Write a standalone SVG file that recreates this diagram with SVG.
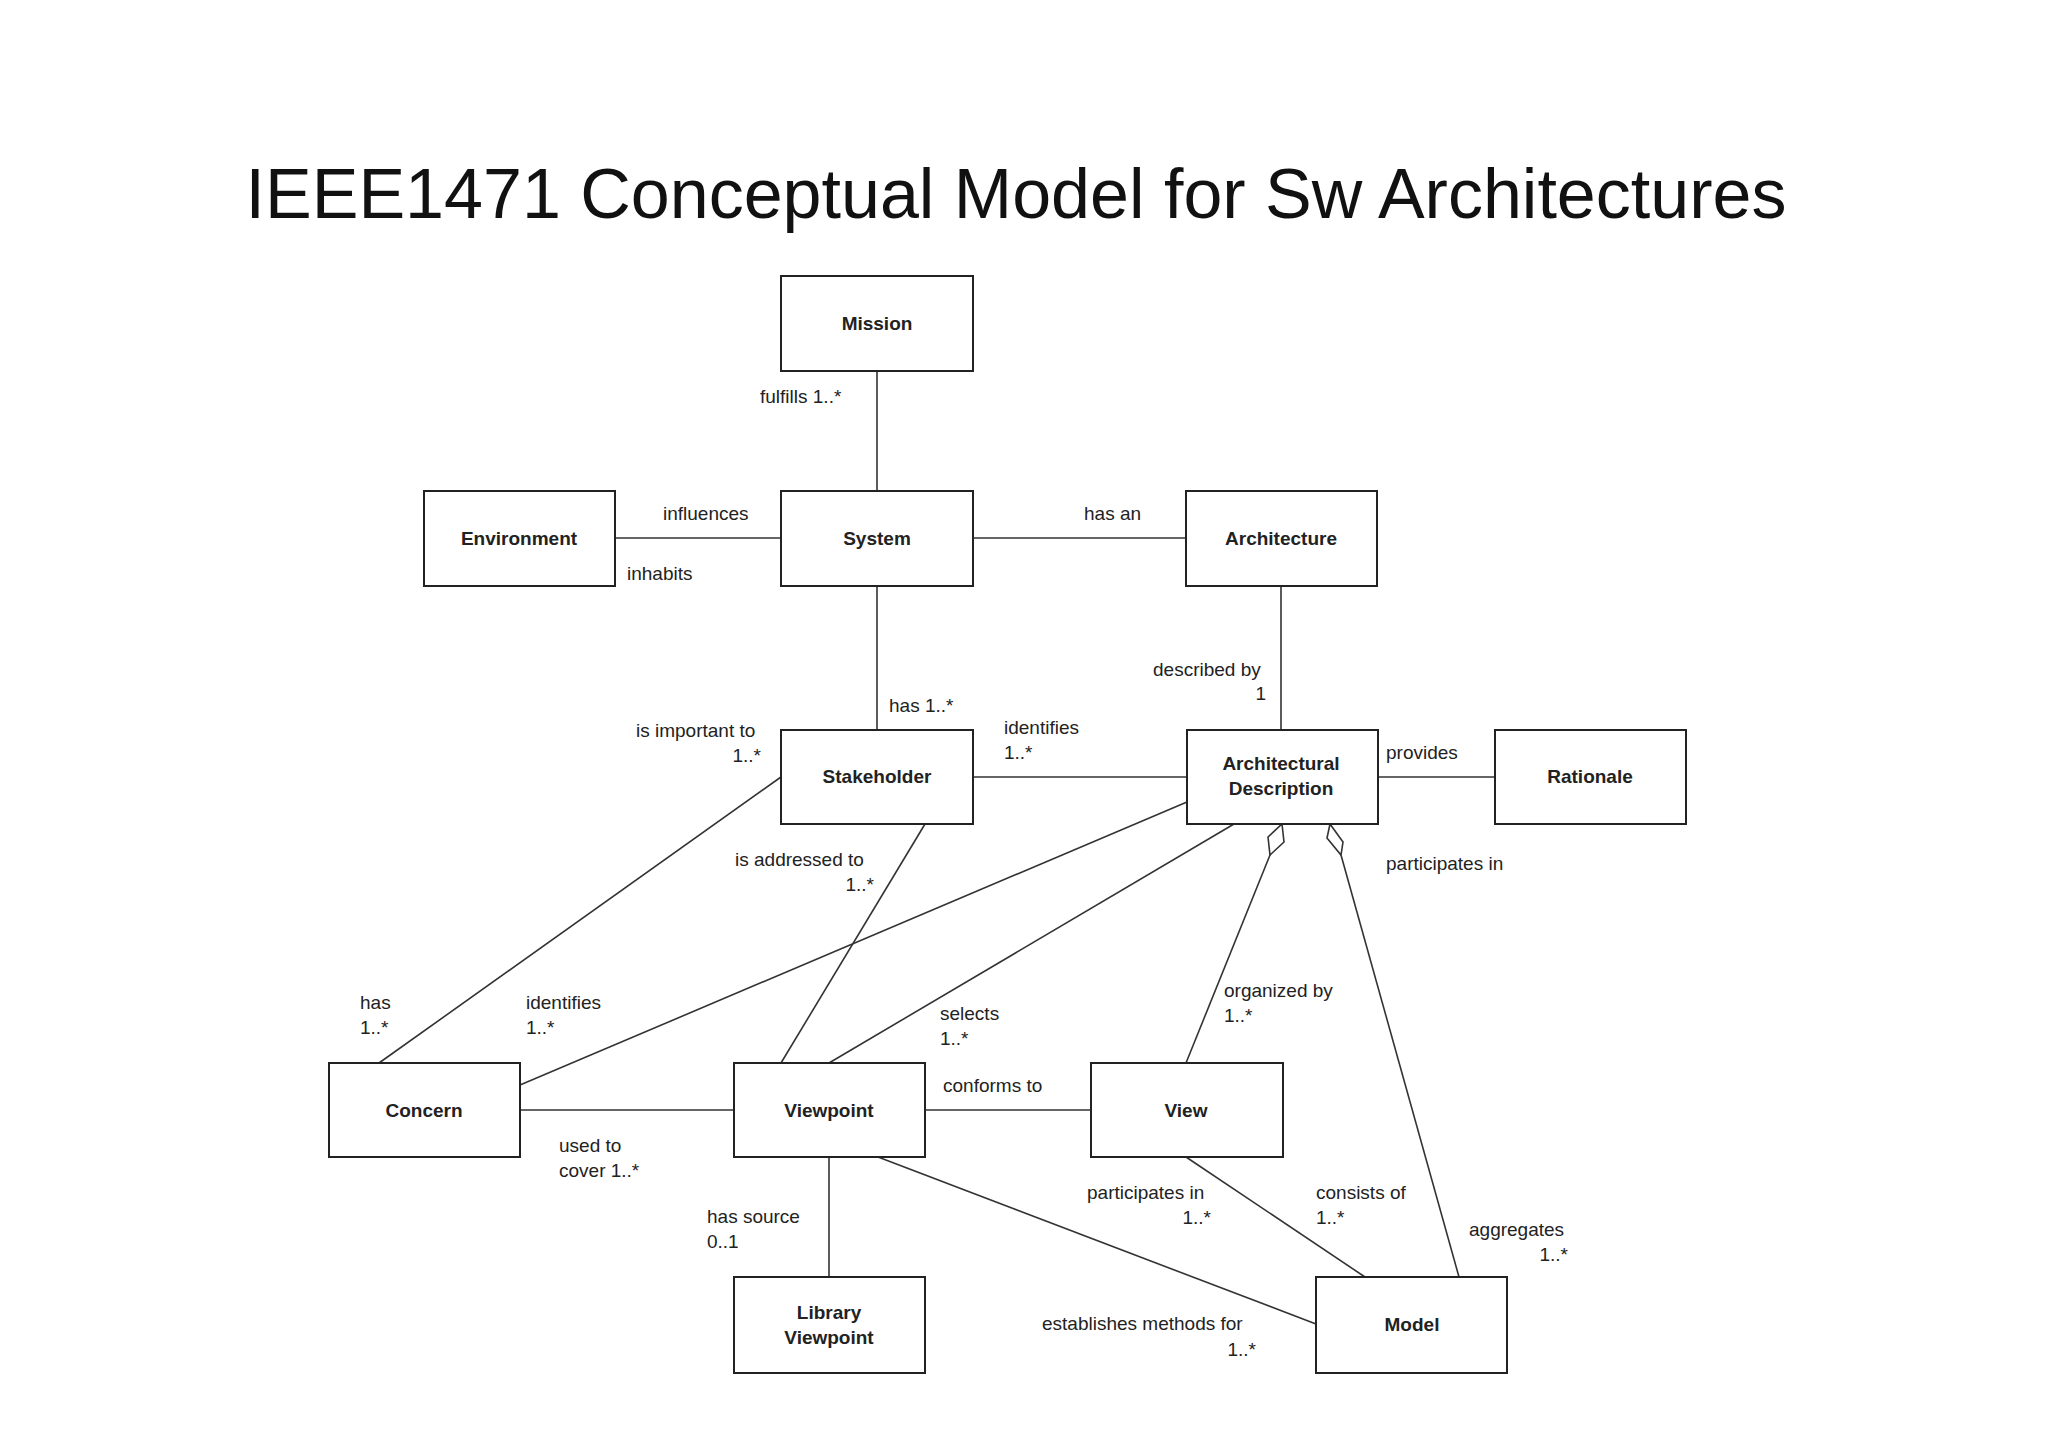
<svg xmlns="http://www.w3.org/2000/svg" width="2048" height="1447" viewBox="0 0 2048 1447">
<style>
.b{fill:#fff;stroke:#222;stroke-width:2}
.n{font-family:"Liberation Sans",Arial,sans-serif;font-size:19px;font-weight:bold;fill:#222;text-anchor:middle}
.l{font-family:"Liberation Sans",Arial,sans-serif;font-size:19px;fill:#222}
.r{text-anchor:end}
#c line,#c path{stroke:#333;stroke-width:1.6;fill:none}
</style>
<rect width="2048" height="1447" fill="#fff"/>
<text x="1016" y="218" font-family="Liberation Sans,Arial,sans-serif" font-size="70" text-anchor="middle" fill="#111">IEEE1471 Conceptual Model for Sw Architectures</text>
<g id="c">
<line x1="877" y1="371" x2="877" y2="491"/>
<line x1="615" y1="538" x2="781" y2="538"/>
<line x1="973" y1="538" x2="1186" y2="538"/>
<line x1="877" y1="586" x2="877" y2="730"/>
<line x1="1281" y1="586" x2="1281" y2="730"/>
<line x1="973" y1="777" x2="1187" y2="777"/>
<line x1="1378" y1="777" x2="1495" y2="777"/>
<line x1="781" y1="777" x2="379" y2="1063"/>
<line x1="925" y1="824" x2="781" y2="1063"/>
<line x1="1187" y1="802" x2="520" y2="1085"/>
<line x1="1234" y1="824" x2="829" y2="1063"/>
<path d="M1282 824 L1284 842 L1270 855 L1268 837 Z"/>
<line x1="1270" y1="855" x2="1186" y2="1063"/>
<path d="M1330 824 L1343 842 L1341 855 L1327 838 Z"/>
<line x1="1341" y1="855" x2="1459" y2="1277"/>
<line x1="520" y1="1110" x2="734" y2="1110"/>
<line x1="925" y1="1110" x2="1091" y2="1110"/>
<line x1="829" y1="1157" x2="829" y2="1277"/>
<line x1="878" y1="1157" x2="1316" y2="1324"/>
<line x1="1186" y1="1157" x2="1365" y2="1277"/>
</g>
<g id="mission"><rect class="b" x="781" y="276" width="192" height="95"/><text class="n" x="877" y="330">Mission</text></g>
<g id="environment"><rect class="b" x="424" y="491" width="191" height="95"/><text class="n" x="519" y="545">Environment</text></g>
<g id="system"><rect class="b" x="781" y="491" width="192" height="95"/><text class="n" x="877" y="545">System</text></g>
<g id="architecture"><rect class="b" x="1186" y="491" width="191" height="95"/><text class="n" x="1281" y="545">Architecture</text></g>
<g id="stakeholder"><rect class="b" x="781" y="730" width="192" height="94"/><text class="n" x="877" y="783">Stakeholder</text></g>
<g id="ad"><rect class="b" x="1187" y="730" width="191" height="94"/><text class="n" x="1281" y="770">Architectural</text><text class="n" x="1281" y="795">Description</text></g>
<g id="rationale"><rect class="b" x="1495" y="730" width="191" height="94"/><text class="n" x="1590" y="783">Rationale</text></g>
<g id="concern"><rect class="b" x="329" y="1063" width="191" height="94"/><text class="n" x="424" y="1117">Concern</text></g>
<g id="viewpoint"><rect class="b" x="734" y="1063" width="191" height="94"/><text class="n" x="829" y="1117">Viewpoint</text></g>
<g id="view"><rect class="b" x="1091" y="1063" width="192" height="94"/><text class="n" x="1186" y="1117">View</text></g>
<g id="library"><rect class="b" x="734" y="1277" width="191" height="96"/><text class="n" x="829" y="1319">Library</text><text class="n" x="829" y="1344">Viewpoint</text></g>
<g id="model"><rect class="b" x="1316" y="1277" width="191" height="96"/><text class="n" x="1412" y="1331">Model</text></g>
<g id="labels">
<text class="l" x="760" y="403">fulfills 1..*</text>
<text class="l" x="663" y="520">influences</text>
<text class="l" x="627" y="580">inhabits</text>
<text class="l" x="1084" y="520">has an</text>
<text class="l" x="1153" y="676">described by</text>
<text class="l r" x="1266" y="700">1</text>
<text class="l" x="889" y="712">has 1..*</text>
<text class="l" x="636" y="737">is important to</text>
<text class="l r" x="761" y="762">1..*</text>
<text class="l" x="1004" y="734">identifies</text>
<text class="l" x="1004" y="759">1..*</text>
<text class="l" x="1386" y="759">provides</text>
<text class="l" x="1386" y="870">participates in</text>
<text class="l" x="735" y="866">is addressed to</text>
<text class="l r" x="874" y="891">1..*</text>
<text class="l" x="360" y="1009">has</text>
<text class="l" x="360" y="1034">1..*</text>
<text class="l" x="526" y="1009">identifies</text>
<text class="l" x="526" y="1034">1..*</text>
<text class="l" x="940" y="1020">selects</text>
<text class="l" x="940" y="1045">1..*</text>
<text class="l" x="1224" y="997">organized by</text>
<text class="l" x="1224" y="1022">1..*</text>
<text class="l" x="943" y="1092">conforms to</text>
<text class="l" x="559" y="1152">used to</text>
<text class="l" x="559" y="1177">cover 1..*</text>
<text class="l" x="707" y="1223">has source</text>
<text class="l" x="707" y="1248">0..1</text>
<text class="l" x="1087" y="1199">participates in</text>
<text class="l r" x="1211" y="1224">1..*</text>
<text class="l" x="1316" y="1199">consists of</text>
<text class="l" x="1316" y="1224">1..*</text>
<text class="l" x="1469" y="1236">aggregates</text>
<text class="l r" x="1568" y="1261">1..*</text>
<text class="l" x="1042" y="1330">establishes methods for</text>
<text class="l r" x="1256" y="1356">1..*</text>
</g>
</svg>
